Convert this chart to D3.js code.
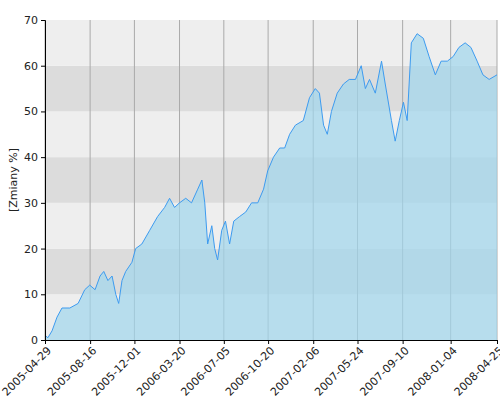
<!DOCTYPE html>
<html><head><meta charset="utf-8">
<script src="https://cdn.jsdelivr.net/npm/d3@7"></script>
<style>body{margin:0;background:#fff}text{font-family:"DejaVu Sans";font-size:11px;fill:#222}</style>
</head><body><svg id="c" width="500" height="400"></svg>
<script>
// days since 2005-04-29, value in %
const days = [0,7,17,29,41,60,80,96,108,121,133,142,152,162,171,178,186,195,210,219,234,253,272,289,301,313,325,340,354,369,379,386,393,403,410,417,427,436,446,456,470,485,499,514,528,538,552,567,579,591,605,624,639,653,663,673,682,692,706,721,735,750,764,774,784,798,813,822,837,846,856,866,875,885,899,914,928,943,957,972,986,1000,1015,1029,1044,1058,1073,1092];
const values = [1,0.5,2,5,7,7,8,11,12,11,14,15,13,14,10,8,13,15,17,20,21,24,27,29,31,29,30,31,30,33,35,30,21,25,20,17.5,24,26,21,26,27,28,30,30,33,37,40,42,42,45,47,48,53,55,54,47,45,50,54,56,57,57,60,55,57,54,61,56,48,43.5,48,52,48,65,67,66,62,58,61,61,62,64,65,64,61,58,57,58];
const tickLabels = ["2005-04-29","2005-08-16","2005-12-01","2006-03-20","2006-07-05","2006-10-20","2007-02-06","2007-05-24","2007-09-10","2008-01-04","2008-04-25"];
const yTicks = [0,10,20,30,40,50,60,70];

const start = new Date(2005,3,29);
const pts = days.map((d,i)=>({t:d3.timeDay.offset(start,d), v:values[i]}));
const svg = d3.select("#c");
const L=45,R=497,T=20,B=340;
const x = d3.scaleTime().domain([start,new Date(2008,3,25)]).range([L,R]);
const y = d3.scaleLinear().domain([0,70]).range([B,T]);

for(let i=0;i<7;i++){
  svg.append("rect").attr("x",L).attr("width",R-L)
    .attr("y",y(yTicks[i+1])).attr("height",y(yTicks[i])-y(yTicks[i+1]))
    .attr("fill",i%2?"#dcdcdc":"#eeeeee");
}
const tickDates = tickLabels.map(s=>d3.timeParse("%Y-%m-%d")(s));
svg.selectAll(".vg").data(tickDates).join("line")
  .attr("x1",d=>x(d)).attr("x2",d=>x(d)).attr("y1",T).attr("y2",B)
  .attr("stroke","#aaa").attr("stroke-width",1);

svg.append("path").datum(pts)
  .attr("d",d3.area().x(d=>x(d.t)).y0(B).y1(d=>y(d.v)))
  .attr("fill","#9fd6ec").attr("fill-opacity",0.7);
svg.append("path").datum(pts)
  .attr("d",d3.line().x(d=>x(d.t)).y(d=>y(d.v)))
  .attr("fill","none").attr("stroke","#3d9bf0").attr("stroke-width",1);

svg.append("g").attr("transform",`translate(${L},0)`)
  .call(d3.axisLeft(y).tickValues(yTicks).tickSize(4))
  .call(g=>g.selectAll("text").style("font-size","11px"));
const xa = svg.append("g").attr("transform",`translate(0,${B})`)
  .call(d3.axisBottom(x).tickValues(tickDates).tickFormat((d,i)=>tickLabels[i]).tickSize(4));
xa.selectAll("text").attr("text-anchor","end").attr("dx","-0.3em").attr("dy","0.5em")
  .attr("transform","rotate(-45)");
svg.selectAll(".domain").attr("stroke","#000");
svg.append("text").attr("transform","translate(17,180) rotate(-90)")
  .attr("text-anchor","middle").text("[Zmiany %]");
</script></body></html>
